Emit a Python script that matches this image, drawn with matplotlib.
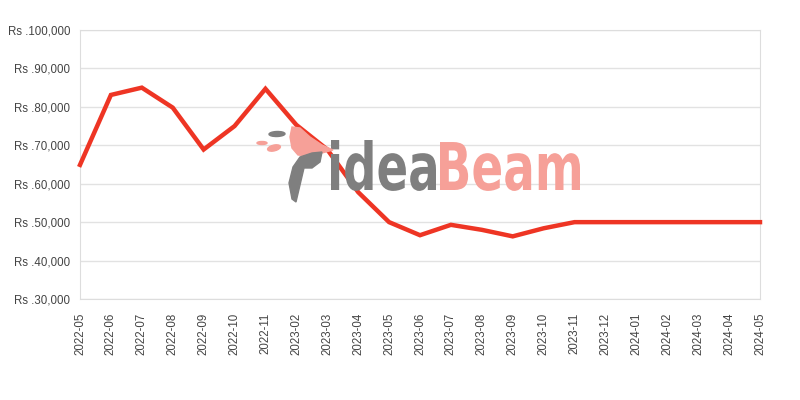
import numpy as np
import matplotlib
matplotlib.use("Agg")
from matplotlib import pyplot as plt
from matplotlib.patches import Ellipse, Polygon, PathPatch
from matplotlib.textpath import TextPath
from matplotlib.font_manager import FontProperties
from matplotlib.transforms import Affine2D

months = ["2022-05", "2022-06", "2022-07", "2022-08", "2022-09", "2022-10",
          "2022-11", "2023-02", "2023-03", "2023-04", "2023-05", "2023-06",
          "2023-07", "2023-08", "2023-09", "2023-10", "2023-11", "2023-12",
          "2024-01", "2024-02", "2024-03", "2024-04", "2024-05"]
prices = [64900, 83100, 85000, 79800, 68900, 75000,
          84700, 75300, 68900, 57800, 50000, 46600,
          49300, 48000, 46300, 48400, 50000, 50000,
          50000, 50000, 50000, 50000, 50000]
yticks = [30000, 40000, 50000, 60000, 70000, 80000, 90000, 100000]
ylabels = ["Rs .{:,}".format(v) for v in yticks]

plt.rcParams['font.family'] = ['Liberation Sans', 'DejaVu Sans']

fig = plt.figure(figsize=(8, 4), dpi=100)
ax = fig.add_axes([0.1, 0.2525, 0.85, 0.6725])

x = np.arange(len(months))
ax.plot(x, prices, color='#ee3524', lw=3.2, solid_joinstyle='miter', zorder=5,
        clip_on=False)

ax.set_xlim(0, len(months) - 1)
ax.set_ylim(30000, 100000)
ax.set_yticks(yticks)
ax.set_yticklabels(ylabels)
ax.set_xticks(x)
ax.set_xticklabels(months, rotation=90)
ax.tick_params(length=0, labelsize=8.3, colors='#444444')
ax.tick_params(axis='y', pad=7)
ax.tick_params(axis='x', pad=10)
ax.grid(axis='y', color='#e2e2e2', lw=1)
for s in ax.spines.values():
    s.set_color('#dddddd')
ax.set_axisbelow(True)

# watermark (logo), placed in figure pixels
def px(xp, yp):
    return (xp / 800, 1 - yp / 400)

fp = FontProperties(family='DejaVu Sans', weight='bold')
tp_idea = TextPath((0, 0), "idea", size=100, prop=fp)
tp_beam = TextPath((0, 0), "Beam", size=100, prop=fp)
sy = 50 / tp_idea.get_extents().y1

def place(tp, x0, x1, color):
    b = tp.get_extents()
    sx = (x1 - x0) / (b.x1 - b.x0)
    tr = (Affine2D().translate(-b.x0, 0).scale(sx / 800, sy / 400)
          .translate(x0 / 800, 1 - 190 / 400) + fig.transFigure)
    patch = PathPatch(tp, color=color, lw=0, transform=tr, zorder=1)
    fig.patches.append(patch)

place(tp_idea, 331, 436, '#7f7f7f')
place(tp_beam, 440, 580, '#f6a098')

logo = [
    Polygon([px(292, 127), px(300, 128), px(310, 137), px(322, 145),
             px(333, 150), px(322, 153), px(310, 156), px(298, 155),
             px(292, 148), px(290, 137)], closed=True, color='#f6a098'),
    Ellipse(px(277, 134), 16 / 800, 5 / 400, angle=5, color='#7f7f7f'),
    Ellipse(px(262, 143), 10 / 800, 3 / 400, color='#f6a098'),
    Ellipse(px(274, 148), 15 / 800, 5 / 400, angle=45, color='#f6a098'),
    Polygon([px(300, 157), px(312, 153), px(322, 152), px(320, 162),
             px(312, 168), px(304, 168), px(300, 185), px(296, 202),
             px(292, 199), px(289, 183), px(293, 167)],
            closed=True, color='#7f7f7f'),
]
for p in logo:
    p.set_transform(fig.transFigure)
    p.set_zorder(1)
    fig.patches.append(p)

fig.savefig("out.png", dpi=100)
